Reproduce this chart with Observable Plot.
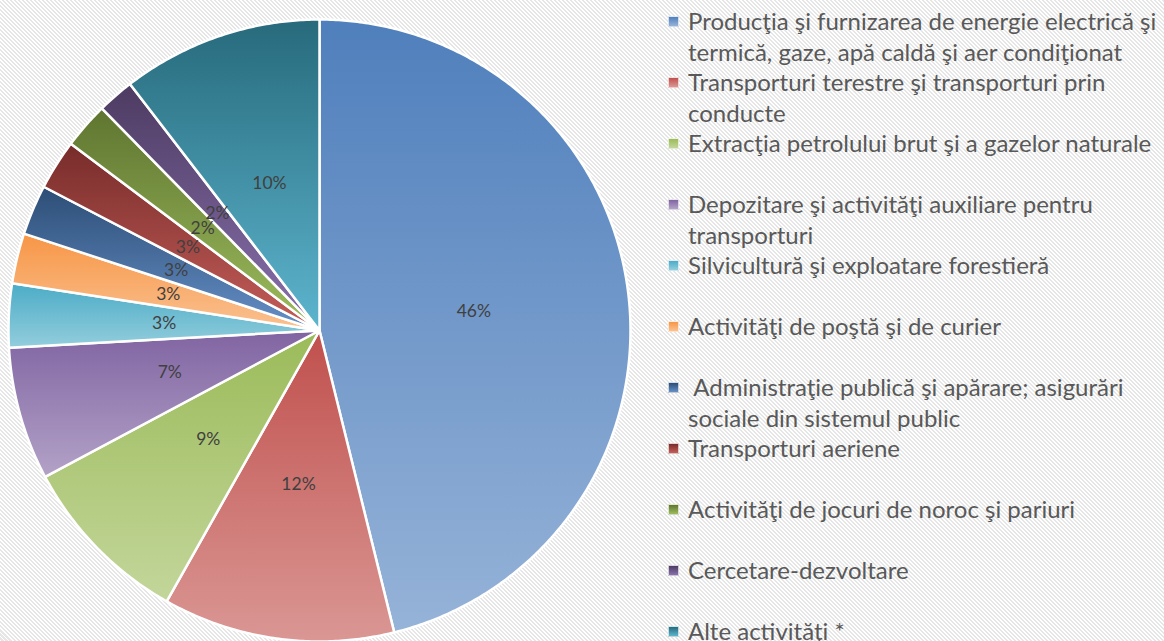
<!DOCTYPE html>
<html><head><meta charset="utf-8">
<script src="https://cdn.jsdelivr.net/npm/d3@7"></script>
<script src="https://cdn.jsdelivr.net/npm/@observablehq/plot@0.6"></script>
<style>
html,body{margin:0;padding:0;width:1164px;height:641px;overflow:hidden}
body{background: repeating-linear-gradient(45deg, #ffffff 0px, #ffffff 1.41px, #e6e6e6 1.41px, #e6e6e6 2.83px);}
#wrap{position:relative;width:1164px;height:641px}
#chart{position:absolute;left:0;top:0}
#legend{position:absolute;left:668px;top:6px;font-family:Lato,"Open Sans",sans-serif;font-size:24px;color:#595959}
.item{height:61px;line-height:30.5px;display:flex;align-items:flex-start}
.sw{width:11px;height:11px;margin-top:10px;flex:none;margin-right:9px;box-sizing:border-box;border:0.5px solid rgba(255,255,255,0.7)}
.tx{white-space:pre}
</style></head>
<body>
<div id="wrap"><div id="chart"></div><div id="legend"></div></div>
<script>
// ---- data ----
const categories = [
  "Producţia şi furnizarea de energie electrică şi\ntermică, gaze, apă caldă şi aer condiţionat",
  "Transporturi terestre şi transporturi prin\nconducte",
  "Extracţia petrolului brut şi a gazelor naturale",
  "Depozitare şi activităţi auxiliare pentru\ntransporturi",
  "Silvicultură şi exploatare forestieră",
  "Activităţi de poştă şi de curier",
  " Administraţie publică şi apărare; asigurări\nsociale din sistemul public",
  "Transporturi aeriene",
  "Activităţi de jocuri de noroc şi pariuri",
  "Cercetare-dezvoltare",
  "Alte activităţi *"
];
const values = [46.0, 12.0, 9.0, 6.9, 3.3, 2.6, 2.6, 2.6, 2.4, 1.9, 10.4];
const pctLabels = ["46%", "12%", "9%", "7%", "3%", "3%", "3%", "3%", "2%", "2%", "10%"];
const colorTop = ["#4F7FBC", "#C0504D", "#9BBB59", "#8064A2", "#4BACC6", "#F79646", "#2C4D75", "#772C2A", "#5F7530", "#4D3B62", "#276A7C"];
const colorBottom = ["#96B3D8", "#DA9794", "#C3D69B", "#B3A2C7", "#93CDDD", "#FAC191", "#6690C8", "#C65E5A", "#9DBD5E", "#8A72AE", "#5DB5CE"];

// ---- geometry from data ----
const total = d3.sum(values);
let acc = 0;
const slices = values.map((v, i) => {
  const a0 = acc / total * 2 * Math.PI;
  acc += v;
  const a1 = acc / total * 2 * Math.PI;
  const pts = [{x: 0, y: 0}];
  const n = Math.max(4, Math.ceil((a1 - a0) / (Math.PI / 360)));
  for (let k = 0; k <= n; k++) {
    const a = a0 + (a1 - a0) * k / n;
    pts.push({x: Math.sin(a), y: Math.cos(a)});
  }
  pts.push({x: 0, y: 0});
  const am = (a0 + a1) / 2;
  return {i, pts, lx: 0.5 * Math.sin(am), ly: 0.5 * Math.cos(am), label: pctLabels[i]};
});

const W = 650, H = 641;
const marks = slices.map(s => Plot.line(s.pts, {
  x: "x", y: "y", fill: `url(#grad${s.i})`, stroke: "white", strokeWidth: 2.5, strokeLinejoin: "round"
}));
marks.push(Plot.text(slices, {
  x: "lx", y: "ly", text: "label", fontSize: 17.5, fill: "#404040", fontFamily: "Lato, 'Open Sans', sans-serif"
}));

const svg = Plot.plot({
  width: W, height: H,
  marginLeft: 8, marginRight: W - 630, marginTop: 19, marginBottom: H - 641,
  x: {domain: [-1, 1], axis: null},
  y: {domain: [-1, 1], axis: null},
  style: {background: "transparent", overflow: "visible"},
  marks
});

const defs = d3.create("svg:defs");
colorTop.forEach((c, i) => {
  const g = defs.append("linearGradient").attr("id", `grad${i}`)
    .attr("x1", 0).attr("y1", 0).attr("x2", 0).attr("y2", 1);
  g.append("stop").attr("offset", "0%").attr("stop-color", c);
  g.append("stop").attr("offset", "100%").attr("stop-color", colorBottom[i]);
});
svg.insertBefore(defs.node(), svg.firstChild);
document.getElementById("chart").appendChild(svg);

// ---- legend ----
const legend = d3.select("#legend");
categories.forEach((c, i) => {
  const it = legend.append("div").attr("class", "item");
  it.append("div").attr("class", "sw")
    .style("background", `linear-gradient(${colorTop[i]}, ${colorBottom[i]})`);
  it.append("div").attr("class", "tx").text(c);
});
</script>
</body></html>
